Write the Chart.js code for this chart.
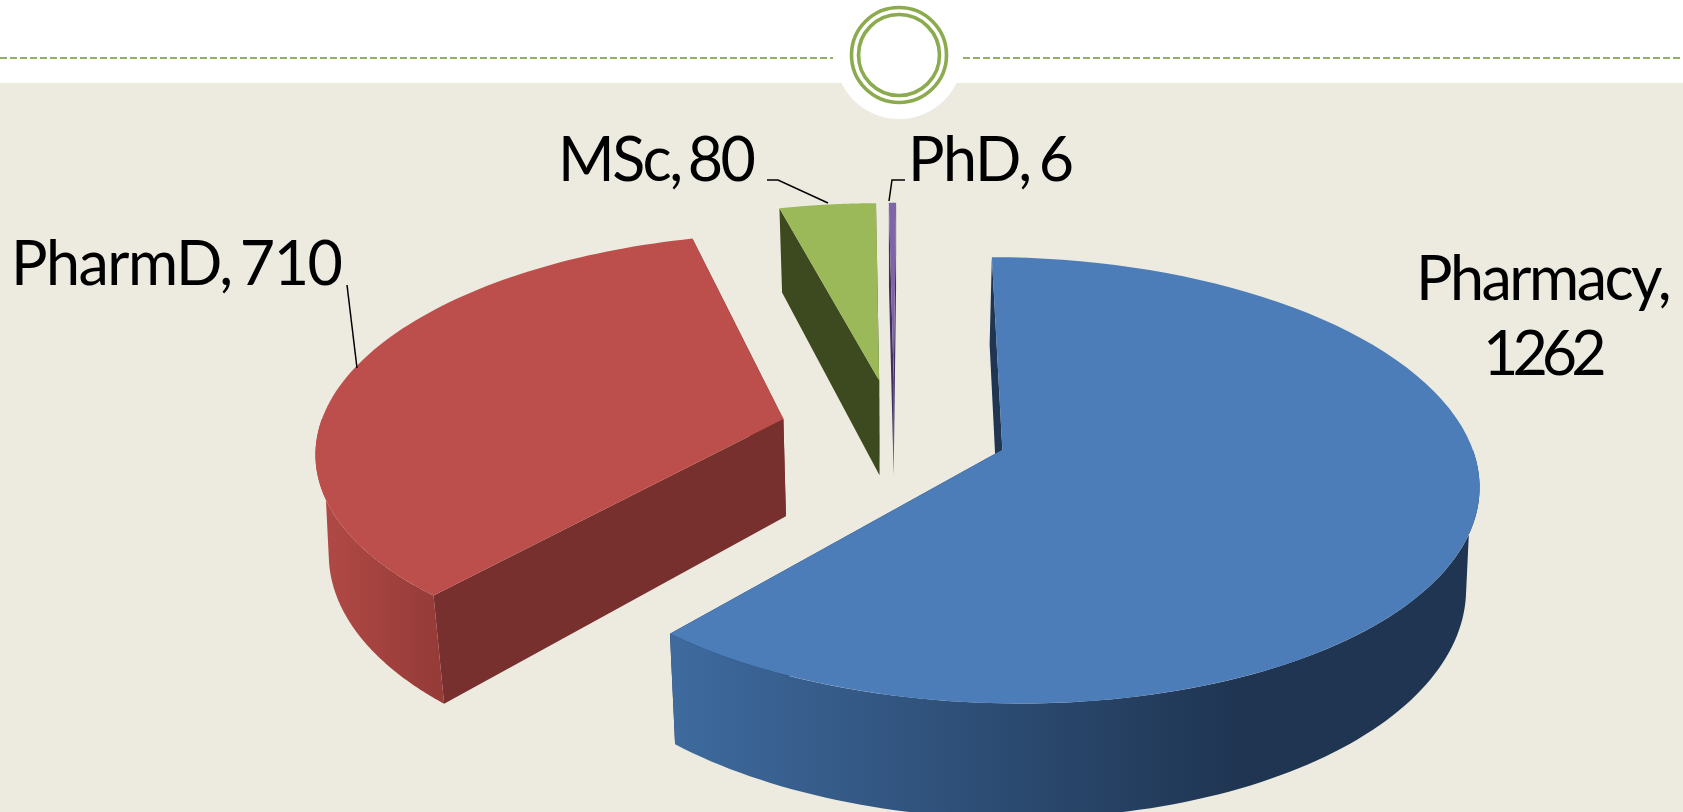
<!DOCTYPE html>
<html>
<head>
<meta charset="utf-8">
<style>
  html, body { margin: 0; padding: 0; background: #fff; overflow: hidden; }
  canvas { display: block; }
</style>
<script src="https://cdn.jsdelivr.net/npm/chart.js@4"></script>
</head>
<body>
<canvas id="grafico" width="1683" height="812"></canvas>
<script>
const categorias = ['Pharmacy', 'PharmD', 'MSc', 'PhD'];
const valores = [1262, 710, 80, 6];

const coresTopo = ['#4C7DB9', '#BC4F4B', '#9BB958', '#8064A8'];
const coresCorte = ['#1F3552', '#78302F', '#3D4A20', '#3F2F60'];
// gradiente da parede externa: [x inicial, x final, cor inicial, cor final]
const coresParede = [
   [676, 1240, '#3E6A9E', '#1F3552'],
   [318, 440, '#B24A46', '#953B38'],
   null,
   null
];

// rotulos: cada linha e [texto, x, y de base, espaco entre letras]
const rotulos = [
   [[categorias[0] + ',', 1416, 300, -2.5], [String(valores[0]), 1483, 375, -6]],
   [[categorias[1] + ', ' + valores[1], 11, 285, -1.5]],
   [[categorias[2] + ', ' + valores[2], 558, 181, -2.5]],
   [[categorias[3] + ', ' + valores[3], 908, 181, -1.5]]
];
const guias = [
   null,
   [[347, 285], [357, 368]],
   [[767, 180], [778, 180], [828, 203]],
   [[905, 180], [892, 180], [889, 201]]
];

// camera da pizza 3D
const camera = { xc: 894, yc: 431, raio: 465, k: 0.46, q: 0.00029, prof: 98, conv: 0.023 };

function projetar(u, v, embaixo) {
   const w = 1 - camera.q * v;
   const f = embaixo ? 1 - camera.conv : 1;
   return [camera.xc + u / w * f, camera.yc + camera.k * v / w + (embaixo ? camera.prof / w : 0)];
}

function caminho(ctx, pontos) {
   ctx.beginPath();
   pontos.forEach((p, i) => i == 0 ? ctx.moveTo(p[0], p[1]) : ctx.lineTo(p[0], p[1]));
   ctx.closePath();
}

function desenharFatia(ctx, arco, i) {
   const zoom = camera.raio / arco.outerRadius;
   const meio = (arco.startAngle + arco.endAngle) / 2;
   const ox = Math.cos(meio) * arco.options.offset * zoom;
   const oy = Math.sin(meio) * arco.options.offset * zoom;
   const borda = (a, embaixo) => projetar(ox + Math.cos(a) * camera.raio, oy + Math.sin(a) * camera.raio, embaixo);

   const passos = 90;
   const topo = [];
   for (let p = 0; p <= passos; p++) {
      topo.push(borda(arco.startAngle + (arco.endAngle - arco.startAngle) * p / passos, false));
   }

   // faces de corte
   ctx.fillStyle = coresCorte[i];
   [arco.startAngle, arco.endAngle].forEach(a => {
      caminho(ctx, [projetar(ox, oy, false), borda(a, false), borda(a, true), projetar(ox, oy, true)]);
      ctx.fill();
   });

   // parede externa, so a parte virada para a frente
   // o arco de baixo comeca 0.2 rad depois para a lateral sair reta da borda de cima
   if (coresParede[i]) {
      const ini = Math.max(arco.startAngle, 0);
      const fim = Math.min(arco.endAngle, Math.PI);
      const iniBaixo = Math.max(arco.startAngle, 0.2);
      const fimBaixo = Math.min(arco.endAngle, Math.PI - 0.2);
      const cima = [], baixo = [];
      for (let p = 0; p <= passos; p++) {
         cima.push(borda(ini + (fim - ini) * p / passos, false));
         baixo.unshift(borda(iniBaixo + (fimBaixo - iniBaixo) * p / passos, true));
      }
      const c = coresParede[i];
      const grad = ctx.createLinearGradient(c[0], 0, c[1], 0);
      grad.addColorStop(0, c[2]);
      grad.addColorStop(1, c[3]);
      ctx.fillStyle = grad;
      caminho(ctx, cima.concat(baixo));
      ctx.fill();
   }

   // face de cima
   ctx.fillStyle = coresTopo[i];
   caminho(ctx, [projetar(ox, oy, false)].concat(topo));
   ctx.fill();
}

const fundo = {
   id: 'fundo',
   beforeDraw(chart) {
      const ctx = chart.ctx;
      ctx.save();
      ctx.fillStyle = '#FFFFFF';
      ctx.fillRect(0, 0, 1683, 812);
      ctx.fillStyle = '#EDEBE0';
      ctx.fillRect(0, 83, 1683, 729);
      ctx.fillStyle = '#FFFFFF';
      ctx.beginPath();
      ctx.arc(899, 55, 64, 0, Math.PI * 2);
      ctx.fill();

      ctx.strokeStyle = '#93B060';
      ctx.lineWidth = 2;
      ctx.setLineDash([7, 3]);
      ctx.beginPath();
      ctx.moveTo(0, 58);
      ctx.lineTo(833, 58);
      ctx.moveTo(963, 58);
      ctx.lineTo(1683, 58);
      ctx.stroke();
      ctx.setLineDash([]);

      ctx.strokeStyle = '#8CAA4E';
      ctx.lineWidth = 3.6;
      [47.5, 40.5].forEach(r => {
         ctx.beginPath();
         ctx.arc(899, 55, r, 0, Math.PI * 2);
         ctx.stroke();
      });
      ctx.restore();
   }
};

const pizza3d = {
   id: 'pizza3d',
   beforeDatasetDraw(chart, args) {
      const ctx = chart.ctx;
      ctx.save();
      args.meta.data.forEach((arco, i) => desenharFatia(ctx, arco, i));
      ctx.restore();
      return false;
   },
   afterDatasetsDraw(chart) {
      const ctx = chart.ctx;
      ctx.save();
      ctx.strokeStyle = '#000';
      ctx.lineWidth = 1.5;
      guias.forEach(g => {
         if (!g) return;
         ctx.beginPath();
         g.forEach((p, i) => i == 0 ? ctx.moveTo(p[0], p[1]) : ctx.lineTo(p[0], p[1]));
         ctx.stroke();
      });
      ctx.fillStyle = '#000';
      ctx.font = '61px Lato';
      ctx.wordSpacing = '-6px';
      ctx.textBaseline = 'alphabetic';
      rotulos.forEach(linhas => linhas.forEach(l => {
         ctx.letterSpacing = l[3] + 'px';
         ctx.fillText(l[0], l[1], l[2]);
      }));
      ctx.restore();
   }
};

new Chart(document.getElementById('grafico'), {
   type: 'pie',
   data: {
      labels: categorias,
      datasets: [{
         data: valores,
         backgroundColor: coresTopo,
         borderWidth: 0,
         offset: 89
      }]
   },
   options: {
      responsive: false,
      animation: false,
      events: [],
      rotation: 0.35,
      plugins: {
         legend: { display: false },
         tooltip: { enabled: false }
      }
   },
   plugins: [fundo, pizza3d]
});
</script>
</body>
</html>
